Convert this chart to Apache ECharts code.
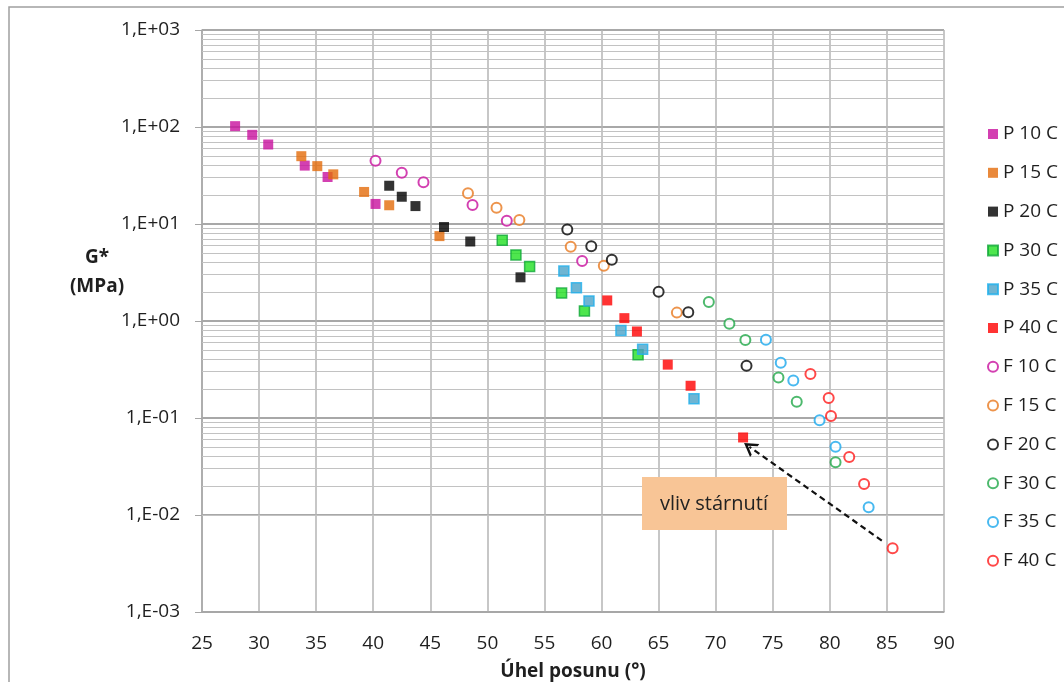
<!DOCTYPE html>
<html lang="cs">
<head>
    <meta charset="UTF-8">
    <title>G* vs úhel posunu</title>
    <script src="https://cdn.jsdelivr.net/npm/echarts@6/dist/echarts.min.js"></script>
    <style>
        html, body { margin: 0; padding: 0; background: #fff; }
        #main { width: 1064px; height: 682px; }
    </style>
</head>
<body>
<div id="main"></div>
<script type="text/javascript">
    // data: [uhel (deg), G* (MPa)]
    var p10 = [[27.9, 102], [29.4, 83], [30.8, 66], [34.0, 40], [36.0, 30.5], [40.2, 16.1]];
    var p15 = [[33.7, 50], [35.1, 39.5], [36.5, 32.5], [39.2, 21.4], [41.4, 15.6], [45.8, 7.5]];
    var p20 = [[41.4, 24.8], [42.5, 19.1], [43.7, 15.3], [46.2, 9.3], [48.5, 6.6], [52.9, 2.82]];
    var p30 = [[51.3, 6.8], [52.5, 4.8], [53.7, 3.65], [56.5, 1.94], [58.5, 1.27], [63.2, 0.45]];
    var p35 = [[56.7, 3.27], [57.8, 2.2], [58.9, 1.61], [61.7, 0.8], [63.6, 0.51], [68.1, 0.158]];
    var p40 = [[60.5, 1.63], [62.0, 1.07], [63.1, 0.78], [65.8, 0.355], [67.8, 0.215], [72.4, 0.063]];
    var f10 = [[40.2, 45], [42.5, 33.8], [44.4, 26.9], [48.7, 15.7], [51.7, 10.8], [58.3, 4.16]];
    var f15 = [[48.3, 20.7], [50.8, 14.7], [52.8, 11.0], [57.3, 5.83], [60.2, 3.72], [66.6, 1.22]];
    var f20 = [[57.0, 8.8], [59.1, 5.9], [60.9, 4.28], [65.0, 2.0], [67.6, 1.23], [72.7, 0.346]];
    var f30 = [[69.4, 1.57], [71.2, 0.937], [72.6, 0.637], [75.5, 0.262], [77.1, 0.147], [80.5, 0.035]];
    var f35 = [[74.4, 0.641], [75.7, 0.371], [76.8, 0.243], [79.1, 0.0946], [80.5, 0.0506], [83.4, 0.012]];
    var f40 = [[78.3, 0.284], [79.9, 0.161], [80.1, 0.105], [81.7, 0.0396], [83.0, 0.0209], [85.5, 0.00454]];

    var names = ['P 10 C', 'P 15 C', 'P 20 C', 'P 30 C', 'P 35 C', 'P 40 C',
        'F 10 C', 'F 15 C', 'F 20 C', 'F 30 C', 'F 35 C', 'F 40 C'];
    var sets = [p10, p15, p20, p30, p35, p40, f10, f15, f20, f30, f35, f40];
    var fills = ['#c8109e', '#e36c0a', '#000000', '#22e022', '#4aa3c8', '#ff0000',
        '#c8109e', '#e8791f', '#000000', '#20a848', '#1aa8ec', '#ff1a1a'];
    var borders = ['#c8109e', '#e36c0a', '#000000', '#12a83a', '#20b0ec', '#ff0000'];

    // arrow "vliv stárnutí"
    var arrowFrom = [84.55, 0.00545];
    var arrowTo = [72.95, 0.0505];

    var yMin = 0.001, yMax = 1000;
    var xMin = 25, xMax = 90, xStep = 5;

    // minor log grid lines 2..9 in each decade
    var minorLines = [];
    for (var e = -3; e < 3; e++) {
        for (var m = 2; m <= 9; m++) {
            minorLines.push({yAxis: m * Math.pow(10, e)});
        }
    }

    var txt = '#1f1f1f';
    var font = '"Open Sans", "Noto Sans", sans-serif';

    function fmtE(v) {
        var p = Math.round(Math.log10(v));
        var s = Math.abs(p) < 10 ? '0' + Math.abs(p) : '' + Math.abs(p);
        return '1,E' + (p < 0 ? '-' : '+') + s;
    }

    var myChart = echarts.init(document.getElementById('main'));

    var series = [];
    for (var i = 0; i < sets.length; i++) {
        var isP = i < 6;
        series.push({
            name: names[i],
            type: 'scatter',
            data: sets[i],
            symbol: isP ? 'rect' : 'emptyCircle',
            symbolSize: 10,
            itemStyle: isP ? {
                color: fills[i],
                borderColor: borders[i],
                borderWidth: (i === 3 || i === 4) ? 1.5 : 0
            } : {
                color: fills[i],
                borderColor: fills[i],
                borderWidth: 2.5
            },
            z: 5
        });
    }
    // grid lines + arrow
    series.push({
        type: 'scatter',
        data: [],
        silent: true,
        markLine: {
            silent: true,
            symbol: 'none',
            label: {show: false},
            lineStyle: {color: '#c2c2c2', width: 1, type: 'solid'},
            data: minorLines,
            animation: false
        },
        z: 1
    });
    series.push({
        type: 'scatter',
        data: [],
        silent: true,
        markLine: {
            silent: true,
            label: {show: false},
            symbol: ['none', 'path://M0,10 L5,0 L10,10 L8.2,10 L5,3.6 L1.8,10 Z'],
            symbolSize: [16, 13],
            lineStyle: {color: '#111', width: 2.2, type: [6, 4]},
            data: [[{coord: arrowFrom}, {coord: arrowTo}]],
            animation: false
        },
        z: 6
    });

    var option = {
        animation: false,
        backgroundColor: '#fff',
        textStyle: {fontFamily: font},
        grid: {left: 202, right: 120, top: 30, bottom: 70, outerBoundsMode: 'none', containLabel: false},
        legend: {
            orient: 'vertical',
            left: 982,
            top: 119,
            data: names,
            itemWidth: 10,
            itemHeight: 10,
            itemGap: 18.8,
            textStyle: {fontSize: 19, color: txt, lineHeight: 20, fontFamily: font}
        },
        xAxis: {
            type: 'value',
            min: xMin,
            max: xMax,
            interval: xStep,
            name: 'Úhel posunu (°)',
            nameLocation: 'middle',
            nameGap: 50,
            nameTextStyle: {fontSize: 19, fontWeight: 'bold', color: txt},
            axisLine: {lineStyle: {color: '#a6a6a6', width: 1.5}},
            axisTick: {show: false},
            axisLabel: {fontSize: 19, color: txt, margin: 22},
            splitLine: {lineStyle: {color: '#b4b4b4', width: 1.5}}
        },
        yAxis: {
            type: 'log',
            logBase: 10,
            min: yMin,
            max: yMax,
            splitNumber: 6,
            axisLine: {show: true, lineStyle: {color: '#a6a6a6', width: 1.5}},
            axisTick: {show: true, length: 7, lineStyle: {color: '#a6a6a6'}},
            axisLabel: {fontSize: 19, color: txt, margin: 22, formatter: fmtE},
            splitLine: {lineStyle: {color: '#a8a8a8', width: 2}}
        },
        graphic: [
            {
                type: 'rect',
                shape: {x: 9, y: 7, width: 1080, height: 700},
                style: {fill: 'none', stroke: '#a0a0a0', lineWidth: 1.5},
                silent: true
            },
            {
                type: 'text',
                x: 97, y: 258,
                style: {text: 'G*', font: 'bold 19px ' + font, fill: txt, align: 'center', verticalAlign: 'middle'}
            },
            {
                type: 'text',
                x: 97, y: 287,
                style: {text: '(MPa)', font: 'bold 19px ' + font, fill: txt, align: 'center', verticalAlign: 'middle'}
            },
            {
                type: 'rect',
                shape: {x: 642, y: 477, width: 145, height: 53},
                style: {fill: '#f8c596'},
                z: 10
            },
            {
                type: 'text',
                x: 714, y: 504,
                style: {text: 'vliv stárnutí', font: '20px ' + font, fill: '#222', align: 'center', verticalAlign: 'middle'},
                z: 11
            }
        ],
        series: series
    };
    myChart.setOption(option);
</script>
</body>
</html>
